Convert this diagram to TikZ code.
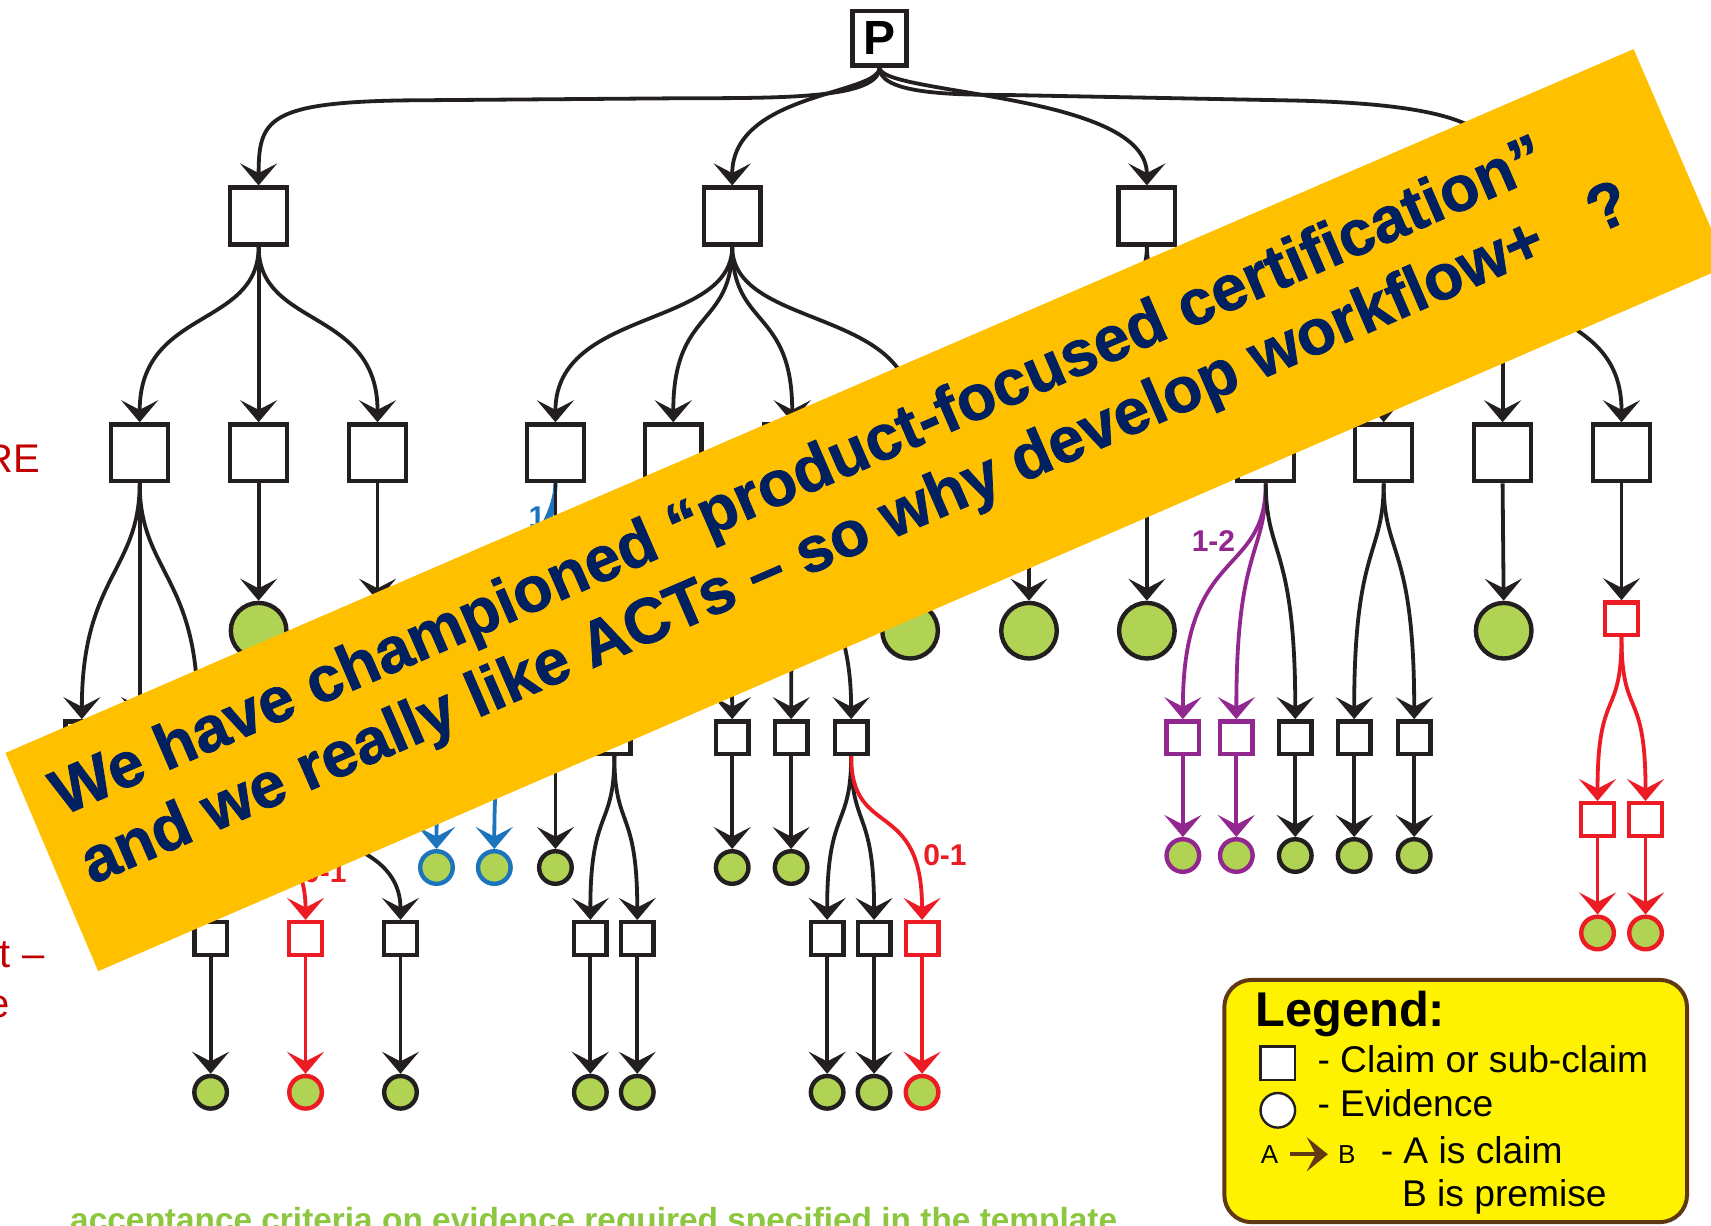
\documentclass[tikz,border=0pt]{standalone}
\usepackage{fontspec}
\setmainfont{Liberation Sans}
\newfontfamily\bannerfam{Liberation Sans}[BoldFeatures={FakeBold=1.2}]
\usetikzlibrary{arrows.meta}
\definecolor{ink}{HTML}{231F20}
\definecolor{evgreen}{HTML}{B0D354}
\definecolor{cblue}{HTML}{1C75BC}
\definecolor{cpurple}{HTML}{92278F}
\definecolor{cred}{HTML}{ED1C24}
\definecolor{bannerfill}{HTML}{FFC000}
\definecolor{bannertext}{HTML}{002060}
\definecolor{legfill}{HTML}{FFF200}
\definecolor{legedge}{HTML}{603913}
\definecolor{bottomgreen}{HTML}{8DC63F}
\definecolor{darkred}{HTML}{C00000}
\begin{document}
\begin{tikzpicture}[x=0.5456pt,y=-0.5456pt,
  pbox/.style={draw=ink,line width=2.3pt,fill=white,minimum size=27.1pt,inner sep=0pt,font=\fontsize{24}{28}\selectfont\bfseries},
  bigbox/.style={draw=ink,line width=2.2pt,fill=white,minimum size=28.4pt,inner sep=0pt},
  smallbox/.style={draw=ink,line width=2.2pt,fill=white,minimum size=16.3pt,inner sep=0pt},
  bigev/.style={circle,draw=ink,line width=2.2pt,fill=evgreen,minimum size=27.8pt,inner sep=0pt},
  smallev/.style={circle,draw=ink,line width=2.2pt,fill=evgreen,minimum size=16.3pt,inner sep=0pt},
  conn/.style={draw=ink,line width=1.9pt,-{Stealth[length=11pt,width=18.5pt,inset=4.8pt]}},
  bconn/.style={conn,draw=cblue},
  pconn/.style={conn,draw=cpurple},
  rconn/.style={conn,draw=cred},
  lbl/.style={inner sep=0pt,font=\fontsize{15}{18}\selectfont\bfseries},
  bannerfont/.style={inner sep=0pt,anchor=base west,rotate=23.38,text=bannertext,font=\bannerfam\fontsize{32}{38}\selectfont\bfseries},
  legtext/.style={inner sep=0pt,anchor=base west,text=black,font=\fontsize{18.6}{22}\selectfont},
  legsmall/.style={inner sep=0pt,anchor=base west,text=black,font=\fontsize{13}{16}\selectfont},
  frag/.style={inner sep=0pt,anchor=base east,text=darkred,font=\fontsize{20}{24}\selectfont}
]
\useasboundingbox (0,0) rectangle (1568,1123);
\fill[white] (0,0) rectangle (1568,1123);

% ---------- nodes ----------
\node[pbox] (P) at (806,35) {P};
\node[bigbox] (A1) at (237,198) {};
\node[bigbox] (A2) at (671,198) {};
\node[bigbox] (A3) at (1051,198) {};
\node[bigbox] (A4) at (1377,198) {};

\node[bigbox] (B1) at (128,415) {};
\node[bigbox] (B2) at (237,415) {};
\node[bigbox] (B3) at (346,415) {};
\node[bigbox] (B4) at (509,415) {};
\node[bigbox] (B5) at (617,415) {};
\node[bigbox] (B6) at (726,415) {};
\node[bigbox] (B7) at (835,415) {};
\node[bigbox] (B8) at (943,415) {};
\node[bigbox] (B9) at (1051,415) {};
\node[bigbox] (B10) at (1160,415) {};
\node[bigbox] (B11) at (1268,415) {};
\node[bigbox] (B12) at (1377,415) {};
\node[bigbox] (B13) at (1486,415) {};

\node[bigev] (E2) at (237,578) {};
\node[bigev] (E3) at (346,578) {};
\node[bigev] (E7) at (834,578) {};
\node[bigev] (E8) at (943,578) {};
\node[bigev] (E9) at (1051,578) {};
\node[bigev] (E12) at (1378,578) {};
\node[smallbox,draw=cred] (R13) at (1486,567) {};

\node[smallbox] (C1) at (75,676) {};
\node[smallbox] (C2) at (128,676) {};
\node[smallbox] (C3) at (181,676) {};
\node[smallbox] (C5) at (563,676) {};
\node[smallbox] (C6) at (671,676) {};
\node[smallbox] (C7) at (725,676) {};
\node[smallbox] (C8) at (780,676) {};
\node[smallbox,draw=cpurple] (Ca) at (1084,676) {};
\node[smallbox,draw=cpurple] (Cb) at (1133,676) {};
\node[smallbox] (Cc) at (1187,676) {};
\node[smallbox] (Cd) at (1241,676) {};
\node[smallbox] (Ce) at (1296,676) {};

\node[smallev] (D1) at (75,795) {};
\node[smallev] (D2) at (128,795) {};
\node[smallev,draw=cblue] (D4a) at (400,795) {};
\node[smallev,draw=cblue] (D4b) at (453,795) {};
\node[smallev] (D4c) at (509,795) {};
\node[smallev] (D6) at (671,795) {};
\node[smallev] (D7) at (725,795) {};
\node[smallev,draw=cpurple] (Da) at (1084,784) {};
\node[smallev,draw=cpurple] (Db) at (1133,784) {};
\node[smallev] (Dc) at (1187,784) {};
\node[smallev] (Dd) at (1241,784) {};
\node[smallev] (De) at (1296,784) {};

\node[smallbox,draw=cred] (Ra) at (1464,751) {};
\node[smallbox,draw=cred] (Rb) at (1508,751) {};
\node[smallev,draw=cred] (Rca) at (1464,855) {};
\node[smallev,draw=cred] (Rcb) at (1508,855) {};

\node[smallbox] (F1) at (193,860) {};
\node[smallbox,draw=cred] (F2) at (280,860) {};
\node[smallbox] (F3) at (367,860) {};
\node[smallbox] (F4) at (541,860) {};
\node[smallbox] (F5) at (584,860) {};
\node[smallbox] (F6) at (758,860) {};
\node[smallbox] (F7) at (801,860) {};
\node[smallbox,draw=cred] (F8) at (845,860) {};

\node[smallev] (G1) at (193,1001) {};
\node[smallev,draw=cred] (G2) at (280,1001) {};
\node[smallev] (G3) at (367,1001) {};
\node[smallev] (G4) at (541,1001) {};
\node[smallev] (G5) at (584,1001) {};
\node[smallev] (G6) at (758,1001) {};
\node[smallev] (G7) at (801,1001) {};
\node[smallev,draw=cred] (G8) at (845,1001) {};

% ---------- connectors ----------
\draw[conn] (P.south) .. controls +(0,28) and +(90,0) .. (630,90) -- (370,92) .. controls +(-125,2) and +(0,-60) .. (A1.north);
\draw[conn] (P.south) .. controls +(0,25) and +(0,-85) .. (A2.north);
\draw[conn] (P.south) .. controls +(0,25) and +(0,-85) .. (A3.north);
\draw[conn] (P.south) .. controls +(0,22) and +(-60,0) .. (920,87) -- (1180,92) .. controls +(150,3) and +(0,-55) .. (A4.north);

\draw[conn] (A1.south) .. controls +(0,75) and +(0,-105) .. (B1.north);
\draw[conn] (A1.south) -- (B2.north);
\draw[conn] (A1.south) .. controls +(0,75) and +(0,-105) .. (B3.north);
\draw[conn] (A2.south) .. controls +(0,75) and +(0,-105) .. (B4.north);
\draw[conn] (A2.south) .. controls +(0,75) and +(0,-105) .. (B5.north);
\draw[conn] (A2.south) .. controls +(0,75) and +(0,-105) .. (B6.north);
\draw[conn] (A2.south) .. controls +(0,75) and +(0,-105) .. (B7.north);
\draw[conn] (A3.south) .. controls +(0,75) and +(0,-105) .. (B8.north);
\draw[conn] (A3.south) -- (B9.north);
\draw[conn] (A3.south) .. controls +(0,75) and +(0,-105) .. (B10.north);
\draw[conn] (A4.south) .. controls +(0,75) and +(0,-105) .. (B11.north);
\draw[conn] (A4.south) -- (B12.north);
\draw[conn] (A4.south) .. controls +(0,75) and +(0,-105) .. (B13.north);

\draw[conn] (B1.south) .. controls +(0,80) and +(0,-130) .. (C1.north);
\draw[conn] (B1.south) -- (C2.north);
\draw[conn] (B1.south) .. controls +(0,80) and +(0,-130) .. (C3.north);
\draw[conn] (B2.south) -- (E2.north);
\draw[conn] (B3.south) -- (E3.north);
\draw[bconn] (B4.south) .. controls +(0,60) and +(0,-200) .. (D4a.north);
\draw[bconn] (B4.south) .. controls +(0,60) and +(0,-200) .. (D4b.north);
\draw[conn] (B4.south) -- (D4c.north);
\draw[conn] (B5.south) .. controls +(0,90) and +(0,-120) .. (C5.north);
\draw[conn] (B5.south) .. controls +(0,90) and +(0,-120) .. (C6.north);
\draw[conn] (B6.south) -- (C7.north);
\draw[conn] (B6.south) .. controls +(0,90) and +(0,-120) .. (C8.north);
\draw[conn] (B7.south) -- (E7.north);
\draw[conn] (B8.south) -- (E8.north);
\draw[conn] (B9.south) -- (E9.north);
\draw[pconn] (B10.south) .. controls +(0,87) and +(0,-160) .. (Ca.north);
\draw[pconn] (B10.south) .. controls +(0,67) and +(0,-160) .. (Cb.north);
\draw[conn] (B10.south) .. controls +(0,67) and +(0,-160) .. (Cc.north);
\draw[conn] (B11.south) .. controls +(0,67) and +(0,-160) .. (Cd.north);
\draw[conn] (B11.south) .. controls +(0,67) and +(0,-160) .. (Ce.north);
\draw[conn] (B12.south) -- (E12.north);
\draw[conn] (B13.south) -- (R13.north);

\draw[conn] (C1.south) -- (D1.north);
\draw[conn] (C2.south) -- (D2.north);
\draw[conn] (C3.south) .. controls +(0,80) and +(0,-100) .. (F1.north);
\draw[rconn] (C3.south) .. controls +(0,80) and +(0,-100) .. (F2.north);
\draw[conn] (C3.south) .. controls +(0,80) and +(0,-100) .. (F3.north);
\draw[conn] (C5.south) .. controls +(0,67) and +(0,-103) .. (F4.north);
\draw[conn] (C5.south) .. controls +(0,67) and +(0,-103) .. (F5.north);
\draw[conn] (C6.south) -- (D6.north);
\draw[conn] (C7.south) -- (D7.north);
\draw[conn] (C8.south) .. controls +(0,67) and +(0,-103) .. (F6.north);
\draw[conn] (C8.south) .. controls +(0,67) and +(0,-103) .. (F7.north);
\draw[rconn] (C8.south) .. controls +(0,77) and +(0,-113) .. (F8.north);
\draw[pconn] (Ca.south) -- (Da.north);
\draw[pconn] (Cb.south) -- (Db.north);
\draw[conn] (Cc.south) -- (Dc.north);
\draw[conn] (Cd.south) -- (Dd.north);
\draw[conn] (Ce.south) -- (De.north);
\draw[rconn] (R13.south) .. controls +(0,76) and +(0,-105) .. (Ra.north);
\draw[rconn] (R13.south) .. controls +(0,76) and +(0,-105) .. (Rb.north);
\draw[rconn] (Ra.south) -- (Rca.north);
\draw[rconn] (Rb.south) -- (Rcb.north);

\draw[conn] (F1.south) -- (G1.north);
\draw[rconn] (F2.south) -- (G2.north);
\draw[conn] (F3.south) -- (G3.north);
\draw[conn] (F4.south) -- (G4.north);
\draw[conn] (F5.south) -- (G5.north);
\draw[conn] (F6.south) -- (G6.north);
\draw[conn] (F7.south) -- (G7.north);
\draw[rconn] (F8.south) -- (G8.north);

% ---------- multiplicity labels ----------
\node[lbl,text=cblue,anchor=west] (L1b) at (484,474) {1};
\node[lbl,text=cpurple] (L12p) at (1112,496) {1-2};
\node[lbl,text=cred] (L01m) at (866,784) {0-1};
\node[lbl,text=cred,anchor=east] (L01l) at (318,799) {0-1};

% ---------- side fragments and bottom text ----------
\node[frag] (FR1) at (37,432.6) {RE};
\node[frag] (FR2) at (41,887) {t –};
\node[frag] (FR3) at (9,932) {e};
\node[inner sep=0pt,anchor=base west,text=bottomgreen,font=\fontsize{16.7}{20}\selectfont\bfseries] (BT) at (64,1129) {acceptance criteria on evidence required specified in the template};

% ---------- banner ----------
\fill[bannerfill] (5,690) -- (1497,45) -- (1583,244) -- (90,890) -- cycle;
\node[bannerfont] (T1) at (57,748) {We have championed “product-focused certification”};
\node[bannerfont] (T2) at (84,811) {and we really like ACTs – so why develop workflow+\hspace{27pt}?};

% ---------- legend ----------
\draw[draw=legedge,line width=2pt,fill=legfill,rounded corners=13.6pt] (1122,898) rectangle (1546,1120);
\node[inner sep=0pt,anchor=base west,font=\fontsize{24.4}{28}\selectfont\bfseries] (LT) at (1150,941) {Legend:};
\node[draw=ink,line width=1.2pt,fill=white,minimum width=17.3pt,minimum height=16.8pt,inner sep=0pt] (LSQ) at (1171,974.5) {};
\node[legtext] (L1) at (1207,983) {- Claim or sub-claim};
\node[circle,draw=ink,line width=1.2pt,fill=white,minimum size=17.3pt,inner sep=0pt] (LC) at (1171,1017.5) {};
\node[legtext] (L2) at (1207,1023) {- Evidence};
\node[legsmall] (LA) at (1155,1066) {A};
\node[legsmall] (LB) at (1226,1066) {B};
\draw[draw=legedge,line width=1.8pt,-{Stealth[length=10.5pt,width=17pt,inset=4.5pt]},shorten <=6pt,shorten >=5pt] (LA.east) -- (LB.west);
\node[legtext] (L3) at (1265,1066) {- A is claim};
\node[legtext] (L4) at (1284.5,1106) {B is premise};
\end{tikzpicture}
\end{document}
